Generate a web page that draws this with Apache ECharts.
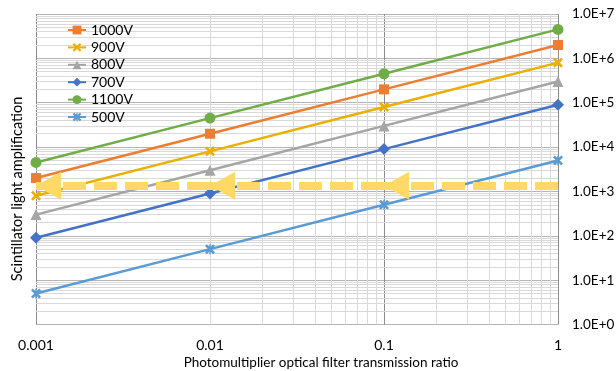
<!DOCTYPE html>
<html><head><meta charset="utf-8">
<script src="https://cdn.jsdelivr.net/npm/echarts@6/dist/echarts.min.js"></script>
<style>html,body{margin:0;padding:0;background:#fff}#c{width:616px;height:371px}</style>
</head><body><div id="c"></div>
<script>
// ---- data ----
const xValues = [0.001, 0.01, 0.1, 1];
const v1000 = [2000, 20000, 200000, 2000000];
const v900  = [800, 8000, 80000, 800000];
const v800  = [300, 3000, 30000, 300000];
const v700  = [90, 900, 9000, 90000];
const v1100 = [4500, 45000, 450000, 4500000];
const v500  = [5, 50, 500, 5000];
const seriesNames = ['1000V', '900V', '800V', '700V', '1100V', '500V'];
const arrowLevel = 1350;
const arrowStops = [1, 0.1, 0.01, 0.001];
const xDecades = [0.001, 0.01, 0.1];
const yDecades = [1, 10, 100, 1000, 10000, 100000, 1000000];
const minorSteps = [2, 3, 4, 5, 6, 7, 8, 9];
const xTitle = 'Photomultiplier optical filter transmission ratio';
const yTitle = 'Scintillator light amplification';

const FONT = 'Lato';
const xSym = 'path://M0,1.8 L1.8,0 L5,3.2 L8.2,0 L10,1.8 L6.8,5 L10,8.2 L8.2,10 L5,6.8 L1.8,10 L0,8.2 L3.2,5 Z';
const starSym = 'path://M0,1.8 L1.8,0 L5,3.2 L8.2,0 L10,1.8 L6.8,5 L10,8.2 L8.2,10 L5,6.8 L1.8,10 L0,8.2 L3.2,5 Z M4.3,0 L5.7,0 L5.7,10 L4.3,10 Z';

const seriesDefs = [
  { name: '1000V', values: v1000, color: '#ED7D31', symbol: 'rect', size: 10 },
  { name: '900V',  values: v900,  color: '#EBAF00', symbol: xSym, size: 10 },
  { name: '800V',  values: v800,  color: '#A5A5A5', symbol: 'triangle', size: 11 },
  { name: '700V',  values: v700,  color: '#4472C4', symbol: 'diamond', size: 12 },
  { name: '1100V', values: v1100, color: '#70AD47', symbol: 'circle', size: 11 },
  { name: '500V',  values: v500,  color: '#5B9BD5', symbol: starSym, size: 10 }
];

const xMinor = [];
xDecades.forEach(d => minorSteps.forEach(m => xMinor.push(d * m)));
const yMinor = [];
yDecades.forEach(d => minorSteps.forEach(m => yMinor.push(d * m)));

const series = [];
series.push({
  name: '_grid', type: 'line', data: [], z: 1, silent: true,
  markLine: {
    z: 1, silent: true, animation: false, symbol: ['none', 'none'],
    label: { show: false },
    lineStyle: { color: '#d9d9d9', width: 1, type: 'solid' },
    emphasis: { disabled: true },
    data: xMinor.map(v => ({ xAxis: v })).concat(yMinor.map(v => ({ yAxis: v })))
  }
});
seriesDefs.forEach(s => {
  series.push({
    name: s.name, type: 'line', z: 3,
    data: xValues.map((x, i) => [x, s.values[i]]),
    symbol: s.symbol, symbolSize: s.size, showAllSymbol: true,
    lineStyle: { color: s.color, width: 2.5 },
    itemStyle: { color: s.color },
    emphasis: { disabled: true }
  });
});
const arrowPairs = [];
for (let i = 0; i < arrowStops.length - 1; i++) {
  arrowPairs.push([{ coord: [arrowStops[i], arrowLevel] }, { coord: [arrowStops[i + 1], arrowLevel] }]);
}
series.push({
  name: '_arrow', type: 'line', data: [], z: 6, silent: true,
  markLine: {
    z: 6, silent: true, animation: false,
    symbol: ['none', 'triangle'], symbolSize: [28, 25],
    symbolOffset: [[0, 0], [0, 12.5]],
    label: { show: false },
    emphasis: { disabled: true },
    lineStyle: { color: '#FFD966', width: 8, type: [23, 8], opacity: 1 },
    itemStyle: { color: '#FFD966' },
    data: arrowPairs
  }
});

const chart = echarts.init(document.getElementById('c'), null, { renderer: 'canvas' });
chart.setOption({
  animation: false,
  backgroundColor: '#ffffff',
  textStyle: { fontFamily: FONT },
  grid: { left: 36, right: 58, top: 14, bottom: 46.5, containLabel: false, outerBoundsMode: 'none' },
  legend: {
    data: seriesNames, orient: 'vertical', left: 62, top: 18, z: 8,
    itemWidth: 18, itemHeight: 11, itemGap: 3.4,
    textStyle: { fontFamily: FONT, fontSize: 14, color: '#000' },
    selectedMode: false
  },
  xAxis: {
    type: 'log', logBase: 10, min: 0.001, max: 1,
    axisLine: { show: false }, axisTick: { show: false },
    axisLabel: { fontFamily: FONT, fontSize: 14, color: '#000', margin: 14,
      formatter: v => String(v) },
    splitLine: { show: true, lineStyle: { color: '#8c8c8c', width: 1 } },
    minorSplitLine: { show: false }
  },
  yAxis: {
    type: 'log', logBase: 10, min: 1, max: 10000000, position: 'right',
    axisLine: { show: false }, axisTick: { show: false },
    axisLabel: { fontFamily: FONT, fontSize: 13.5, color: '#000', margin: 14,
      formatter: v => '1.0E+' + Math.round(Math.log10(v)) },
    splitLine: { show: true, lineStyle: { color: '#b4b4b4', width: 1 } }
  },
  graphic: [
    { type: 'text', x: 321, y: 363, style: { text: xTitle, fontFamily: FONT, fontSize: 13.5, fill: '#000', textAlign: 'center', textVerticalAlign: 'middle' } },
    { type: 'text', x: 17, y: 189, rotation: Math.PI / 2, style: { text: yTitle, fontFamily: FONT, fontSize: 14.5, fill: '#000', textAlign: 'center', textVerticalAlign: 'middle' } }
  ],
  series: series
});
</script>
</body></html>
